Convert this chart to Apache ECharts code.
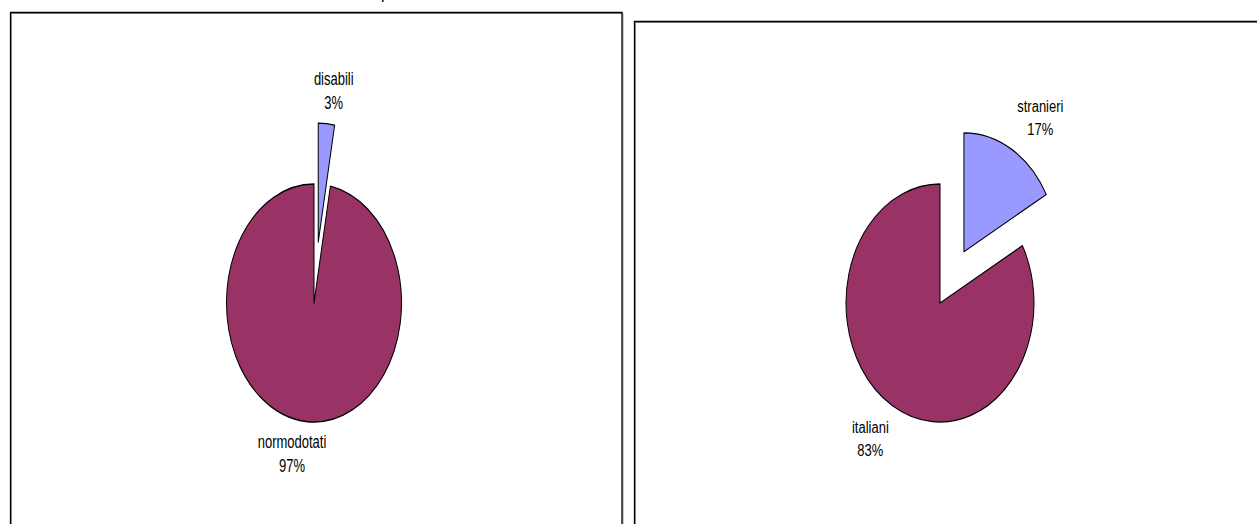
<!DOCTYPE html>
<html>
<head>
<meta charset="utf-8">
<script src="https://cdn.jsdelivr.net/npm/echarts@6/dist/echarts.min.js"></script>
<style>
  html, body { margin: 0; padding: 0; background: #fff; }
  body { width: 1257px; height: 524px; overflow: hidden; position: relative; }
  .layer { position: absolute; left: 0; top: 0; width: 1257px; height: 524px; }
</style>
</head>
<body>
<div id="base" class="layer"></div>
<div id="pieL" class="layer"></div>
<div id="pieR" class="layer"></div>
<script>
// ---- data ----
const leftCategories = ['disabili', 'normodotati'];
const leftValues = [3, 97];
const rightCategories = ['stranieri', 'italiani'];
const rightValues = [17, 83];
const leftExploded = [true, false];
const rightExploded = [true, false];

const FONT = "'Liberation Sans', Arial, sans-serif";
const PURPLE = '#993366';
const BLUE = '#9999FF';

// ---- base layer: panel frames ----
const base = echarts.init(document.getElementById('base'), null, { renderer: 'svg' });
function frame(x, y, w, h) {
  return [
    { type: 'rect', shape: { x: x + 1, y: y + 1, width: w, height: h }, style: { fill: 'none', stroke: '#9a9a9a', lineWidth: 1 } },
    { type: 'rect', shape: { x: x, y: y, width: w, height: h }, style: { fill: 'none', stroke: '#000', lineWidth: 1.3 } }
  ];
}
base.setOption({
  animation: false,
  graphic: [].concat(
    frame(10.5, 12.5, 611.5, 600),
    frame(634.5, 21.5, 700, 600),
    [{ type: 'text', x: 381, y: 1, style: { text: 'p', font: '16px ' + FONT, fill: '#000', textVerticalAlign: 'bottom' } }]
  )
});

// ---- pies (drawn circular by ECharts, stretched vertically like the original) ----
function makePie(elId, cats, vals, exploded, cfg) {
  const el = document.getElementById(elId);
  el.style.transformOrigin = cfg.cx + 'px ' + cfg.cy + 'px';
  el.style.transform = 'scaleY(' + cfg.sy + ')';
  const chart = echarts.init(el, null, { renderer: 'svg' });
  const colors = [BLUE, PURPLE];
  const data = cats.map((c, i) => ({
    name: c,
    value: vals[i],
    selected: exploded[i],
    itemStyle: { color: colors[i] },
    labelLine: { show: false, length: cfg.len1[i], length2: cfg.len2[i] }
  }));
  chart.setOption({
    animation: false,
    series: [{
      type: 'pie',
      center: [cfg.cx, cfg.cy],
      radius: cfg.r,
      startAngle: 90,
      clockwise: true,
      selectedMode: 'single',
      selectedOffset: cfg.offset,
      avoidLabelOverlap: false,
      emphasis: { disabled: true },
      itemStyle: { borderColor: '#000', borderWidth: 1 },
      label: {
        show: true,
        position: 'outside',
        formatter: '{b}\n{c}%',
        fontFamily: FONT,
        fontSize: 13,
        lineHeight: cfg.lh,
        color: '#000'
      },
      labelLayout: { align: 'center' },
      data: data
    }]
  });
  return chart;
}

makePie('pieL', leftCategories, leftValues, leftExploded, {
  cx: 314, cy: 303, r: 87.5, sy: 1.36, offset: 45, lh: 17.5,
  len1: [24, 24], len2: [0, 6.5]
});
makePie('pieR', rightCategories, rightValues, rightExploded, {
  cx: 940, cy: 303, r: 94, sy: 1.266, offset: 47, lh: 18,
  len1: [28.6, 31], len2: [9, 1]
});
</script>
</body>
</html>
